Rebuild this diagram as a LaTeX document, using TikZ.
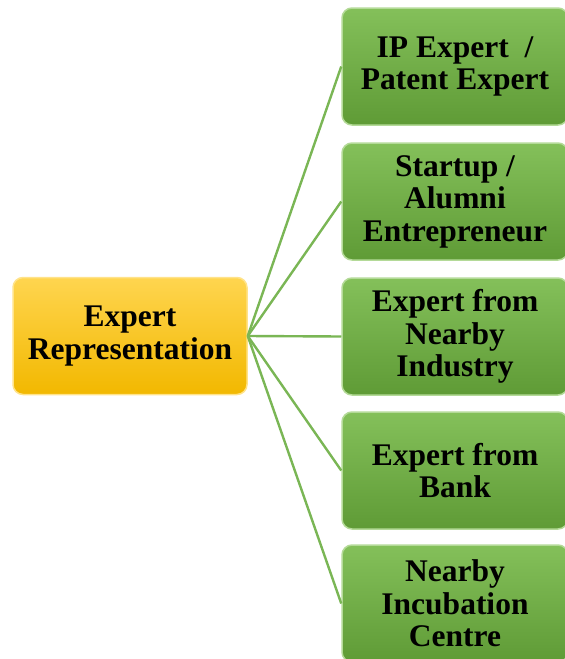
\documentclass[tikz,border=0pt]{standalone}
\usepackage{fontspec}
\setmainfont{Liberation Serif}
\definecolor{leafgreen}{HTML}{7AB655}
\definecolor{leaftop}{HTML}{84C05A}
\definecolor{leafbottom}{HTML}{5F9B36}
\definecolor{leafrim}{HTML}{B4DA98}
\definecolor{roottop}{HTML}{FFD54F}
\definecolor{rootbottom}{HTML}{F2B800}
\definecolor{rootrim}{HTML}{FFE38A}
\tikzset{
  rootbox/.style={draw=rootrim, line width=1.5pt, rounded corners=10pt,
    top color=roottop, bottom color=rootbottom,
    minimum width=234pt, minimum height=117pt, align=center,
    font=\fontsize{31.5}{33}\selectfont\bfseries},
  leafbox/.style={draw=leafrim, line width=1.5pt, rounded corners=10pt,
    top color=leaftop, bottom color=leafbottom,
    minimum width=226pt, minimum height=117pt, align=center,
    font=\fontsize{31.5}{32.5}\selectfont\bfseries},
  branch/.style={draw=leafgreen, line width=2.4pt}
}
\begin{document}
\begin{tikzpicture}[x=1pt, y=-1pt]
        \useasboundingbox (0,0) rectangle (565,659);
        % root on the left
        \node[rootbox] (expert) at (130,336) {Expert\\Representation};
        % five experts on the right
        \node[leafbox] (ip) at (455,66.5) {IP Expert\ \ /\\Patent Expert};
        \node[leafbox] (startup) at (455,201.5) {Startup /\\Alumni\\Entrepreneur};
        \node[leafbox] (industry) at (455,336.5) {Expert from\\Nearby\\Industry};
        \node[leafbox] (bank) at (455,470.5) {Expert from\\Bank};
        \node[leafbox] (incubation) at (455,603.5) {Nearby\\Incubation\\Centre};

        % branches
        \foreach \leaf in {ip, startup, industry, bank, incubation}
            \draw[branch] (expert.east) -- (\leaf.west);
    \end{tikzpicture}
\end{document}
